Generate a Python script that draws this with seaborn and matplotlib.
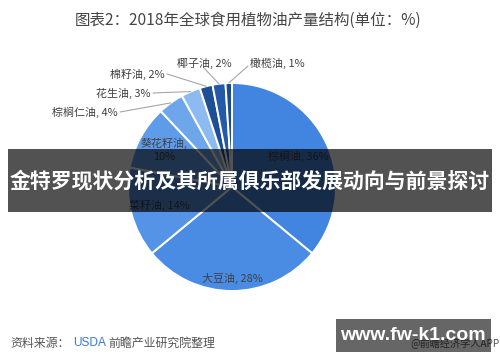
import numpy as np
import matplotlib
matplotlib.use("Agg")
import matplotlib.pyplot as plt
import seaborn as sns
from matplotlib.patches import Rectangle

# ---- data ----
oils = ["棕榈油", "大豆油", "菜籽油", "葵花籽油", "棕榈仁油", "花生油", "棉籽油", "椰子油", "橄榄油"]
shares = [36, 28, 14, 10, 4, 3, 2, 2, 1]
colors = ["#4285E0", "#4A8BE3", "#5593E6", "#5E9BE8", "#6EA6EC",
          "#8DBAF0", "#1E4F96", "#2459A8", "#1B4A8F"]

title = "图表2：2018年全球食用植物油产量结构(单位：%)"
banner = "金特罗现状分析及其所属俱乐部发展动向与前景探讨"

sns.set_theme(style="white")
plt.rcParams["font.family"] = ["Noto Sans CJK SC", "DejaVu Sans"]

W, H = 500, 362
fig = plt.figure(figsize=(5.0, 3.62), dpi=100)
ax = fig.add_axes([0, 0, 1, 1])

def py(y):
    # pixel row -> data y
    return H - y

cx, cy, R = 232, py(187), 104
wedges, _ = ax.pie(shares, colors=colors, startangle=90, counterclock=False,
                   center=(cx, cy), radius=R,
                   wedgeprops=dict(edgecolor="white", linewidth=1.4))
ax.set_xlim(0, W)
ax.set_ylim(0, H)
ax.set_aspect("equal")
ax.axis("off")

def mid_angle(w):
    return np.deg2rad((w.theta1 + w.theta2) / 2)

txt_col = "#404040"
fs = 7.9

# labels inside the big slices
inside = {0: (0.70, "{n}, {v}%"), 1: (0.88, "{n}, {v}%"),
          2: (0.72, "{n}, {v}%"), 3: (0.74, "{n},\n{v}%")}
for i, (dist, fmt) in inside.items():
    a = mid_angle(wedges[i])
    ax.text(cx + dist * R * np.cos(a), cy + dist * R * np.sin(a),
            fmt.format(n=oils[i], v=shares[i]), ha="center", va="center",
            fontsize=fs, color=txt_col, linespacing=1.4)

# labels outside the small slices, with leader lines
outside = {4: (118, 112, "right"), 5: (151, 93, "right"), 6: (165, 74, "right"),
           7: (204, 63, "center"), 8: (250, 63, "left")}
for i, (tx, ty, ha) in outside.items():
    a = mid_angle(wedges[i])
    ex, ey = cx + R * np.cos(a), cy + R * np.sin(a)
    lx = tx + (2 if ha == "right" else 0)
    ly = py(ty) if ha != "center" else py(ty + 5)
    if ha == "left":
        lx = tx - 2
        ly = py(ty + 3)
    ax.plot([lx, ex], [ly, ey], color="#A6A6A6", lw=0.8)
    ax.text(tx, py(ty), f"{oils[i]}, {shares[i]}%", ha=ha, va="center",
            fontsize=fs, color=txt_col)

# title
ax.text(248, py(20), title, ha="center", va="center", fontsize=11.2, color="#454545")

# dark banner across the chart
ax.add_patch(Rectangle((8, py(212)), 484, 63, facecolor="black", alpha=0.68,
                       edgecolor="none", zorder=5))
ax.text(250, py(181), banner, ha="center", va="center", fontsize=15,
        fontweight="bold", color="white", zorder=6)

# source line
src_y = py(343)
sfs = 8.6
ax.text(10, src_y, "资料来源：", ha="left", va="center", fontsize=sfs, color="#555555")
ax.text(73, src_y, "USDA", ha="left", va="center", fontsize=sfs, color="#3C78D8",
        family="Liberation Sans")
ax.text(108, src_y, "前瞻产业研究院整理", ha="left", va="center", fontsize=sfs, color="#555555")
ax.text(500, src_y, "@前瞻经济学人APP", ha="right", va="center", fontsize=7.3, color="#555555")

# site watermark box
ax.add_patch(Rectangle((336, py(352)), 155, 33, facecolor="black", alpha=0.6,
                       edgecolor="none", zorder=5))
ax.text(413, py(335), "www.fw-k1.com", ha="center", va="center", fontsize=14,
        fontweight="bold", color="white", zorder=6, family="Liberation Sans")

fig.savefig("out.png", dpi=100)
